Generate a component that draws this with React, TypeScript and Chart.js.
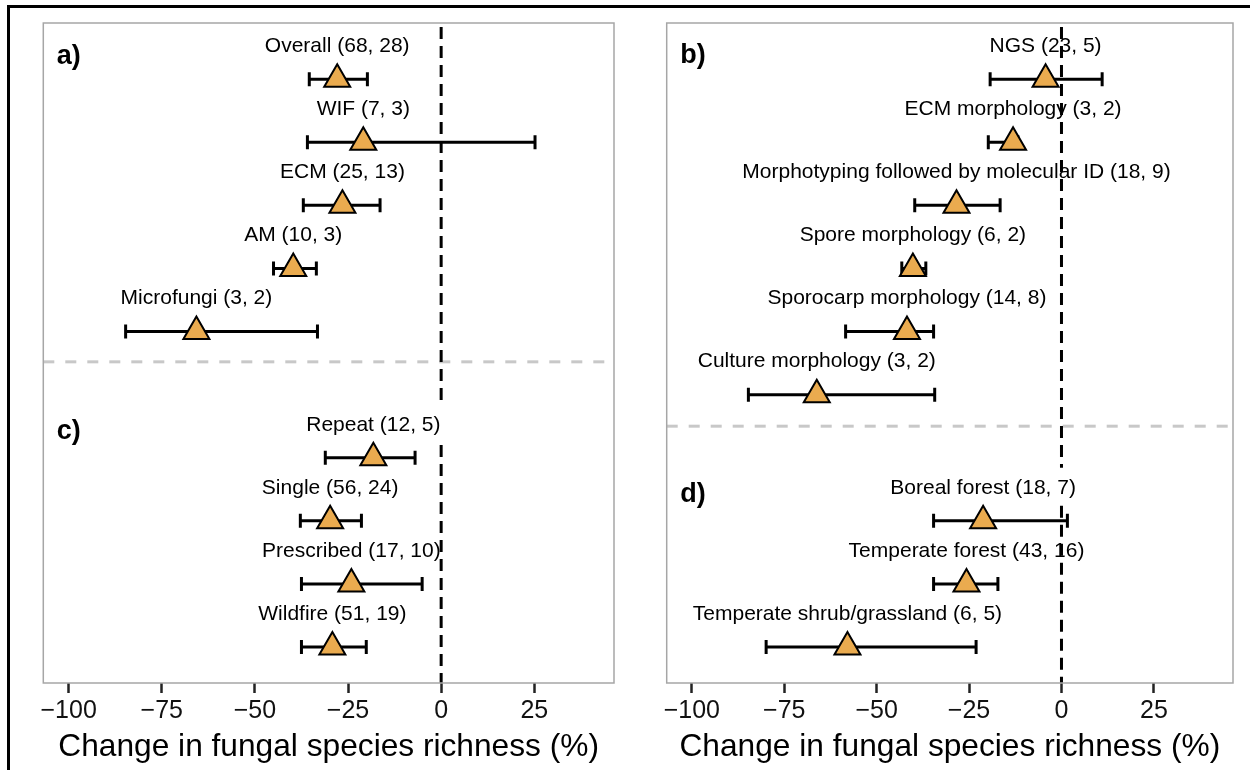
import React, { useEffect, useRef } from "react";
import { Chart, registerables } from "chart.js";

Chart.register(...registerables);

const FONT = "'Liberation Sans', Arial, Helvetica, sans-serif";

// ---------- data ----------
const xTicks = [-100, -75, -50, -25, 0, 25];
const axisTitle = "Change in fungal species richness (%)";

// panel a) fungal group
const aLabels = ["Overall (68, 28)", "WIF (7, 3)", "ECM (25, 13)", "AM (10, 3)", "Microfungi (3, 2)"];
const aMean = [-27.9, -20.9, -26.5, -39.7, -65.7];
const aLow = [-35.4, -35.9, -37.0, -45.0, -84.7];
const aHigh = [-19.8, 25.2, -16.4, -33.5, -33.2];

// panel c) fire type / frequency
const cLabels = ["Repeat (12, 5)", "Single (56, 24)", "Prescribed (17, 10)", "Wildfire (51, 19)"];
const cMean = [-18.2, -29.8, -24.1, -29.2];
const cLow = [-31.1, -37.8, -37.5, -37.5];
const cHigh = [-7.0, -21.4, -5.1, -20.1];

// panel b) method
const bLabels = [
  "NGS (23, 5)",
  "ECM morphology (3, 2)",
  "Morphotyping followed by molecular ID (18, 9)",
  "Spore morphology (6, 2)",
  "Sporocarp morphology (14, 8)",
  "Culture morphology (3, 2)",
];
const bMean = [-4.3, -13.1, -28.4, -40.2, -41.8, -66.2];
const bLow = [-19.3, -19.8, -39.7, -43.2, -58.4, -84.7];
const bHigh = [11.0, -11.8, -16.6, -36.7, -34.6, -34.3];

// panel d) biome
const dLabels = ["Boreal forest (18, 7)", "Temperate forest (43, 16)", "Temperate shrub/grassland (6, 5)"];
const dMean = [-21.2, -25.7, -57.9];
const dLow = [-34.6, -34.6, -79.9];
const dHigh = [1.6, -17.2, -23.1];

// ---------- styling ----------
const ORANGE = "#EAAB4F";
const PANEL_BORDER = "#a6a6a6";
const SEP_COLOR = "#c8c8c8";

type Section = { labels: string[]; mean: number[]; low: number[]; high: number[]; start: number; letter: string; letterRow: number };

type PanelSpec = {
  sections: Section[];
  sepRow: number;
  zeroGap: [number, number];
  padLeft: number;
  padRight: number;
};

const annotatePlugin = {
  id: "annotate",
  beforeDatasetsDraw(chart: any, _args: any, opts: any) {
    const { ctx, chartArea } = chart;
    const xs = chart.scales.x;
    const ys = chart.scales.y;
    ctx.save();
    // gray separator
    ctx.strokeStyle = SEP_COLOR;
    ctx.lineWidth = 3;
    ctx.setLineDash([11, 11]);
    const sy = ys.getPixelForValue(opts.sepRow);
    ctx.beginPath();
    ctx.moveTo(chartArea.left, sy);
    ctx.lineTo(chartArea.right, sy);
    ctx.stroke();
    // zero line
    ctx.strokeStyle = "#000";
    ctx.lineWidth = 3;
    ctx.setLineDash([12, 7]);
    const zx = xs.getPixelForValue(0);
    const g0 = ys.getPixelForValue(opts.zeroGap[0]);
    const g1 = ys.getPixelForValue(opts.zeroGap[1]);
    ctx.beginPath();
    ctx.moveTo(zx, chartArea.top + 4);
    ctx.lineTo(zx, g0);
    ctx.stroke();
    ctx.beginPath();
    ctx.moveTo(zx, g1);
    ctx.lineTo(zx, chartArea.bottom);
    ctx.stroke();
    ctx.setLineDash([]);
    ctx.restore();
  },
  afterDatasetsDraw(chart: any, _args: any, opts: any) {
    const { ctx, chartArea } = chart;
    const xs = chart.scales.x;
    const ys = chart.scales.y;
    ctx.save();
    ctx.fillStyle = "#000";
    ctx.textAlign = "center";
    ctx.textBaseline = "middle";
    ctx.font = `21px ${FONT}`;
    opts.sections.forEach((s: Section) => {
      s.labels.forEach((lab, i) => {
        const px = xs.getPixelForValue(s.mean[i]);
        const py = ys.getPixelForValue(s.start + i) - 33;
        ctx.fillText(lab, px, py);
      });
    });
    ctx.textAlign = "left";
    ctx.textBaseline = "alphabetic";
    ctx.font = `bold 27px ${FONT}`;
    opts.sections.forEach((s: Section) => {
      ctx.fillText(s.letter, chartArea.left + 13.5, ys.getPixelForValue(s.letterRow));
    });
    // panel frame
    ctx.strokeStyle = PANEL_BORDER;
    ctx.lineWidth = 1.5;
    ctx.strokeRect(chartArea.left, chartArea.top, chartArea.right - chartArea.left, chartArea.bottom - chartArea.top);
    ctx.restore();
  },
};

function buildDatasets(spec: PanelSpec) {
  const pts: any[] = [];
  const bars: any[] = [];
  spec.sections.forEach((s) => {
    s.mean.forEach((m, i) => {
      const row = s.start + i;
      pts.push({ x: m, y: row });
      bars.push({
        type: "line",
        data: [
          { x: s.low[i], y: row },
          { x: s.high[i], y: row },
        ],
        showLine: true,
        borderColor: "#000",
        borderWidth: 3,
        pointStyle: "line",
        pointRotation: 90,
        pointRadius: 7,
        pointBorderWidth: 3,
        pointBorderColor: "#000",
        order: 2,
      });
    });
  });
  return [
    {
      type: "scatter",
      data: pts,
      pointStyle: "triangle",
      pointRadius: 15,
      backgroundColor: ORANGE,
      borderColor: "#000",
      pointBorderWidth: 2,
      borderWidth: 2,
      order: 1,
    },
    ...bars,
  ];
}

function Panel({ spec, left, width }: { spec: PanelSpec; left: number; width: number }) {
  const ref = useRef<HTMLCanvasElement | null>(null);
  useEffect(() => {
    if (!ref.current) return;
    const chart = new Chart(ref.current, {
      type: "scatter",
      data: { datasets: buildDatasets(spec) as any },
      options: {
        animation: false,
        responsive: true,
        maintainAspectRatio: false,
        layout: { padding: { left: spec.padLeft, right: spec.padRight, top: 23, bottom: 0 } },
        plugins: {
          legend: { display: false },
          tooltip: { enabled: false },
          annotate: {
            sections: spec.sections,
            sepRow: spec.sepRow,
            zeroGap: spec.zeroGap,
          },
        } as any,
        scales: {
          x: {
            type: "linear",
            min: -106.8,
            max: 46.4,
            afterBuildTicks: (s: any) => {
              s.ticks = xTicks.map((v) => ({ value: v }));
            },
            afterFit: (s: any) => {
              s.height = 87;
            },
            ticks: {
              autoSkip: false,
              maxRotation: 0,
              padding: 3,
              color: "#111",
              font: { family: FONT, size: 25 },
              callback: (v: any) => (Number(v) < 0 ? "\u2212" + Math.abs(Number(v)) : String(v)),
            },
            grid: {
              drawOnChartArea: false,
              drawTicks: true,
              tickLength: 10,
              tickColor: "#222",
              tickWidth: 2.5,
            },
            border: { display: false },
            title: {
              display: true,
              text: axisTitle,
              color: "#000",
              font: { family: FONT, size: 31.7 },
              padding: { top: 0, bottom: 4 },
            },
          },
          y: {
            type: "linear",
            min: -0.89,
            max: 9.57,
            reverse: true,
            display: false,
          },
        },
      },
      plugins: [annotatePlugin],
    });
    return () => chart.destroy();
  }, [spec]);
  return (
    <div style={{ position: "absolute", left, top: 0, width, height: 770 }}>
      <canvas ref={ref} />
    </div>
  );
}

const leftSpec: PanelSpec = {
  sections: [
    { labels: aLabels, mean: aMean, low: aLow, high: aHigh, start: 0, letter: "a)", letterRow: -0.24 },
    { labels: cLabels, mean: cMean, low: cLow, high: cHigh, start: 6, letter: "c)", letterRow: 5.7 },
  ],
  sepRow: 4.48,
  zeroGap: [5.19, 5.8],
  padLeft: 43.3,
  padRight: 26,
};

const rightSpec: PanelSpec = {
  sections: [
    { labels: bLabels, mean: bMean, low: bLow, high: bHigh, start: 0, letter: "b)", letterRow: -0.25 },
    { labels: dLabels, mean: dMean, low: dLow, high: dHigh, start: 7, letter: "d)", letterRow: 6.7 },
  ],
  sepRow: 5.5,
  zeroGap: [6.16, 6.76],
  padLeft: 41.7,
  padRight: 13,
};

export default function App() {
  return (
    <div
      style={{
        position: "absolute",
        left: 0,
        top: 0,
        width: 1250,
        height: 770,
        overflow: "hidden",
        background: "#fff",
        fontFamily: FONT,
      }}
    >
      <div style={{ position: "absolute", left: 7, top: 5, width: 1300, height: 3, background: "#000" }} />
      <div style={{ position: "absolute", left: 7, top: 5, width: 2.5, height: 800, background: "#000" }} />
      <Panel spec={leftSpec} left={0} width={640} />
      <Panel spec={rightSpec} left={625} width={625} />
    </div>
  );
}
